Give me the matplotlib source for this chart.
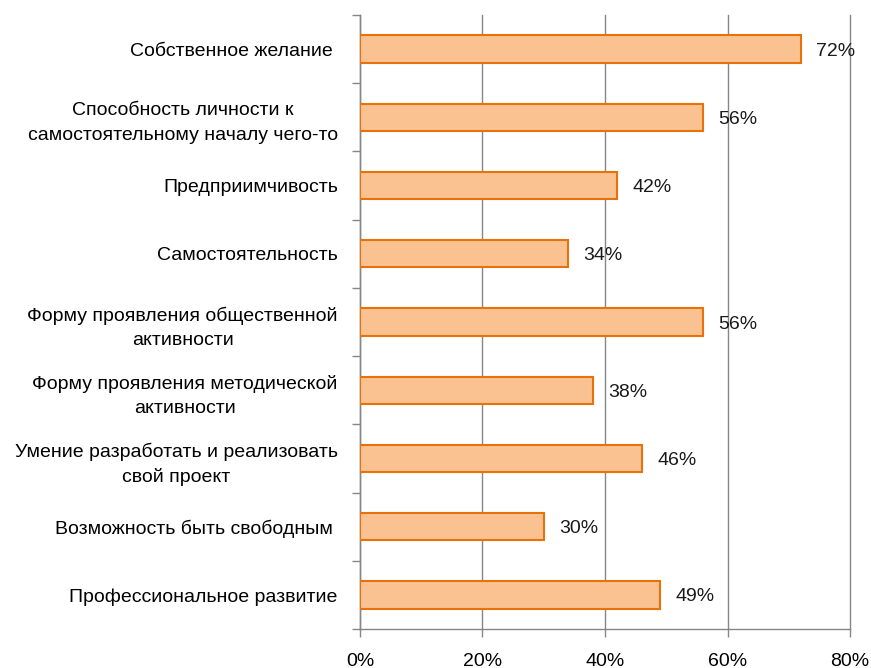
import matplotlib
matplotlib.use("Agg")
import matplotlib.pyplot as plt
import numpy as np

plt.rcParams['font.family'] = ['Liberation Sans', 'DejaVu Sans']

categories = [
    "Собственное желание ",
    "Способность личности к\nсамостоятельному началу чего-то",
    "Предприимчивость",
    "Самостоятельность",
    "Форму проявления общественной\nактивности",
    "Форму проявления методической\nактивности",
    "Умение разработать и реализовать\nсвой проект",
    "Возможность быть свободным ",
    "Профессиональное развитие",
]
values = [72, 56, 42, 34, 56, 38, 46, 30, 49]
xticks = [0, 20, 40, 60, 80]
xtick_labels = ["0%", "20%", "40%", "60%", "80%"]

fig = plt.figure(figsize=(8.71, 6.68), dpi=100)
ax = fig.add_axes([0.4133, 0.0584, 0.9759 - 0.4133, 0.9775 - 0.0584])

y = np.arange(len(categories))
ax.barh(y, values, height=0.4, color="#F9C290", edgecolor="#E8710A", linewidth=1.5, zorder=3)

for yi, v in zip(y, values):
    ax.text(v + 2.5, yi + 0.03, f"{v}%", va="center", ha="left", fontsize=14, color="#1a1a1a", zorder=4)

ax.set_xlim(0, 80)
ax.set_ylim(len(categories) - 0.5, -0.5)

ax.set_xticks(xticks)
ax.set_xticklabels(xtick_labels, fontsize=14)
ax.set_yticks(y)
ax.set_yticklabels(categories, fontsize=14)
for lbl in ax.get_yticklabels():
    lbl.set_multialignment("center")
    lbl.set_linespacing(1.55)
ax.set_yticks(np.arange(-0.5, len(categories) + 0.5, 1), minor=True)

ax.tick_params(axis="y", which="major", length=0, pad=16)
ax.tick_params(axis="y", which="minor", length=6, color="#868686", width=1)
ax.tick_params(axis="x", length=6, color="#868686", width=1, pad=11)

ax.grid(axis="x", color="#868686", linewidth=1, zorder=0)
for gl in ax.get_xgridlines():
    gl.set_clip_on(False)
for s in ["top", "right"]:
    ax.spines[s].set_visible(False)
for s in ["left", "bottom"]:
    ax.spines[s].set_color("#868686")
    ax.spines[s].set_linewidth(1)

fig.savefig("out.png", dpi=100)
